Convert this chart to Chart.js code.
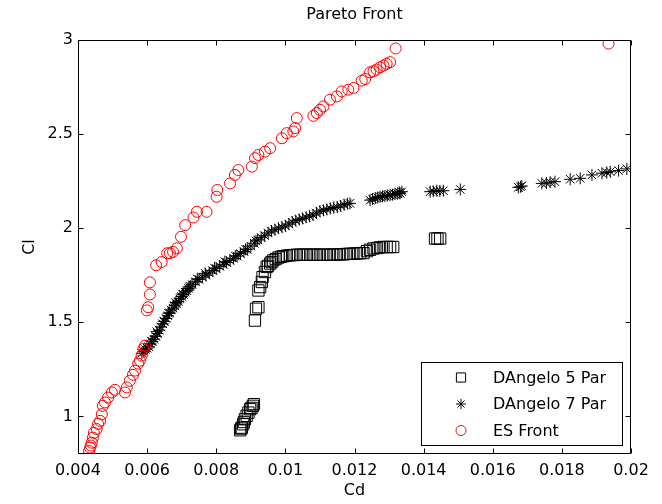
<!DOCTYPE html>
<html>
<head>
<meta charset="utf-8">
<title>Pareto Front</title>
<script src="https://cdn.jsdelivr.net/npm/chart.js@4/dist/chart.umd.min.js"></script>
<style>
  html, body { margin: 0; padding: 0; background: #ffffff; }
  #wrap { width: 662px; height: 504px; }
</style>
</head>
<body>
<div id="wrap"><canvas id="chart" width="662" height="504"></canvas></div>
<script>
// Axis ticks
const cdTicks = [0.004, 0.006, 0.008, 0.010, 0.012, 0.014, 0.016, 0.018, 0.020];
const clTicks = [1, 1.5, 2, 2.5, 3];

// DAngelo 5 parameter front
const dangelo5Cd = [0.00869, 0.00872, 0.00874, 0.00878, 0.00880, 0.00883, 0.00888, 0.00893, 0.00898, 0.00902, 0.00906, 0.00909,
  0.00912, 0.00915, 0.00922, 0.00922, 0.00927, 0.00932, 0.00934, 0.00941, 0.00946, 0.00950, 0.00956, 0.00960, 0.00965, 0.00972,
  0.00980, 0.00987, 0.00994, 0.01004, 0.01014, 0.01023, 0.01033, 0.01043, 0.01052, 0.01062, 0.01072, 0.01081, 0.01091, 0.01100,
  0.01110, 0.01120, 0.01129, 0.01139, 0.01149, 0.01158, 0.01168, 0.01178, 0.01187, 0.01197, 0.01207, 0.01216, 0.01226, 0.01236,
  0.01245, 0.01255, 0.01265, 0.01274, 0.01284, 0.01293, 0.01303, 0.01312, 0.01433, 0.01440, 0.01448];
const dangelo5Cl = [0.926, 0.935, 0.940, 0.958, 0.970, 0.985, 1.003, 1.020, 1.038, 1.045, 1.056, 1.065,
  1.509, 1.572, 1.580, 1.669, 1.687, 1.714, 1.740, 1.767, 1.794, 1.800, 1.812, 1.820, 1.829, 1.836,
  1.844, 1.848, 1.851, 1.854, 1.856, 1.857, 1.859, 1.859, 1.859, 1.859, 1.859, 1.859, 1.859, 1.859,
  1.859, 1.859, 1.859, 1.860, 1.860, 1.861, 1.861, 1.863, 1.864, 1.865, 1.866, 1.867, 1.868, 1.878,
  1.885, 1.892, 1.895, 1.898, 1.900, 1.900, 1.900, 1.900, 1.945, 1.945, 1.945];

// DAngelo 7 parameter front
const dangelo7Cd = [0.00585, 0.00590, 0.00595, 0.00600, 0.00605, 0.00610, 0.00615, 0.00620, 0.00625, 0.00630, 0.00635, 0.00640,
  0.00645, 0.00650, 0.00655, 0.00660, 0.00665, 0.00670, 0.00675, 0.00680, 0.00685, 0.00690, 0.00695, 0.00700, 0.00705, 0.00710,
  0.00715, 0.00720, 0.00725, 0.00730, 0.00740, 0.00750, 0.00760, 0.00770, 0.00780, 0.00790, 0.00800, 0.00810, 0.00820, 0.00830,
  0.00840, 0.00850, 0.00860, 0.00870, 0.00880, 0.00890, 0.00900, 0.00910, 0.00920, 0.00930, 0.00940, 0.00950, 0.00960, 0.00970,
  0.00980, 0.00990, 0.01000, 0.01010, 0.01020, 0.01030, 0.01040, 0.01050, 0.01060, 0.01070, 0.01080, 0.01090, 0.01100, 0.01110,
  0.01120, 0.01130, 0.01140, 0.01150, 0.01160, 0.01170, 0.01180, 0.01187,
  0.00612, 0.00628, 0.00648, 0.00662, 0.00683, 0.00702, 0.00722, 0.00745, 0.00768, 0.00795, 0.00825, 0.00855, 0.00885, 0.00915,
  0.01245, 0.01252, 0.01260, 0.01267, 0.01274, 0.01281, 0.01288, 0.01295, 0.01303, 0.01310, 0.01317, 0.01325, 0.01330, 0.01332, 0.01337,
  0.01419, 0.01428, 0.01438, 0.01447, 0.01457, 0.01506,
  0.01674, 0.01680, 0.01684, 0.01742, 0.01755, 0.01766, 0.01780, 0.01824, 0.01853, 0.01887, 0.01916, 0.01930, 0.01940, 0.01964, 0.01988];
const dangelo7Cl = [1.335, 1.345, 1.355, 1.362, 1.370, 1.385, 1.398, 1.410, 1.425, 1.440, 1.458, 1.475,
  1.492, 1.505, 1.520, 1.535, 1.550, 1.565, 1.575, 1.588, 1.598, 1.610, 1.625, 1.637, 1.648, 1.660,
  1.668, 1.680, 1.692, 1.700, 1.715, 1.728, 1.740, 1.750, 1.762, 1.775, 1.785, 1.798, 1.808, 1.818,
  1.828, 1.840, 1.852, 1.865, 1.876, 1.888, 1.905, 1.920, 1.938, 1.950, 1.960, 1.975, 1.985, 1.992,
  2.000, 2.006, 2.012, 2.022, 2.032, 2.040, 2.046, 2.052, 2.058, 2.064, 2.070, 2.080, 2.090, 2.095,
  2.100, 2.105, 2.110, 2.112, 2.118, 2.125, 2.130, 2.132,
  1.400, 1.450, 1.505, 1.548, 1.605, 1.650, 1.688, 1.731, 1.760, 1.788, 1.822, 1.852, 1.888, 1.932,
  2.149, 2.155, 2.160, 2.163, 2.167, 2.170, 2.171, 2.174, 2.176, 2.178, 2.181, 2.183, 2.190, 2.185, 2.194,
  2.194, 2.196, 2.199, 2.198, 2.199, 2.206,
  2.217, 2.220, 2.224, 2.238, 2.240, 2.244, 2.247, 2.260, 2.265, 2.283, 2.292, 2.296, 2.300, 2.306, 2.315];

// Evolution strategy front
const esFrontCd = [0.00432, 0.00435, 0.00437, 0.00440, 0.00443, 0.00446, 0.00454, 0.00458, 0.00464, 0.00469, 0.00472, 0.00478,
  0.00487, 0.00498, 0.00507, 0.00536, 0.00541, 0.00550, 0.00559, 0.00565, 0.00574, 0.00579, 0.00584, 0.00589, 0.00594,
  0.00599, 0.00603, 0.00608, 0.00608, 0.00626, 0.00642, 0.00658, 0.00666, 0.00675, 0.00686, 0.00698, 0.00710, 0.00734,
  0.00744, 0.00772, 0.00801, 0.00803, 0.00840, 0.00854, 0.00864, 0.00903, 0.00912, 0.00922, 0.00941, 0.00956, 0.00990,
  0.01004, 0.01023, 0.01028, 0.01033, 0.01081, 0.01091, 0.01100, 0.01110, 0.01129, 0.01149, 0.01163, 0.01182, 0.01197,
  0.01221, 0.01231, 0.01245, 0.01255, 0.01264, 0.01274, 0.01284, 0.01293, 0.01303, 0.01319, 0.01935];
const esFrontCl = [0.816, 0.834, 0.845, 0.860, 0.887, 0.912, 0.933, 0.960, 0.976, 1.012, 1.056, 1.074,
  1.100, 1.127, 1.141, 1.127, 1.154, 1.189, 1.221, 1.243, 1.280, 1.296, 1.323, 1.358, 1.376,
  1.563, 1.580, 1.648, 1.712, 1.803, 1.820, 1.867, 1.867, 1.874, 1.893, 1.954, 2.016, 2.057,
  2.087, 2.087, 2.167, 2.203, 2.238, 2.283, 2.309, 2.327, 2.372, 2.389, 2.407, 2.425, 2.478,
  2.505, 2.514, 2.532, 2.585, 2.597, 2.612, 2.629, 2.647, 2.683, 2.700, 2.727, 2.736, 2.745,
  2.784, 2.793, 2.828, 2.834, 2.843, 2.855, 2.864, 2.873, 2.882, 2.955, 2.981];

const zip = (xs, ys) => xs.map((x, i) => ({ x: x, y: ys[i] }));
const FONT = 'DejaVu Sans';

// Box frame with inward tick marks on all four sides
const frameTicks = {
  id: 'frameTicks',
  afterDatasetsDraw(chart) {
    const { ctx, chartArea: a, scales: { x, y } } = chart;
    const L = Math.round(a.left) + 0.5, R = Math.round(a.right) - 0.5;
    const T = Math.round(a.top) + 0.5, B = Math.round(a.bottom) - 0.5;
    const len = 5;
    ctx.save();
    ctx.strokeStyle = '#000';
    ctx.lineWidth = 1;
    ctx.beginPath();
    ctx.rect(L, T, R - L, B - T);
    x.ticks.forEach(t => {
      const px = Math.round(x.getPixelForValue(t.value)) + 0.5;
      ctx.moveTo(px, B); ctx.lineTo(px, B - len);
      ctx.moveTo(px, T); ctx.lineTo(px, T + len);
    });
    y.ticks.forEach(t => {
      const py = Math.round(y.getPixelForValue(t.value)) + 0.5;
      ctx.moveTo(L, py); ctx.lineTo(L + len, py);
      ctx.moveTo(R, py); ctx.lineTo(R - len, py);
    });
    ctx.stroke();
    ctx.restore();
  }
};

// Boxed legend in the lower right corner of the plot area
const boxLegend = {
  id: 'boxLegend',
  afterDraw(chart) {
    const { ctx, chartArea: a } = chart;
    const right = a.right - 9, bottom = a.bottom - 9;
    const w = 201, rowH = 26.5, h = 83;
    const left = right - w, top = bottom - h;
    ctx.save();
    ctx.fillStyle = '#fff';
    ctx.fillRect(left, top, w, h);
    ctx.strokeStyle = '#000';
    ctx.lineWidth = 1;
    ctx.strokeRect(Math.round(left) + 0.5, Math.round(top) + 0.5, Math.round(w), Math.round(h));
    ctx.font = '16px "' + FONT + '"';
    ctx.textBaseline = 'middle';
    ctx.textAlign = 'left';
    chart.data.datasets.forEach((ds, i) => {
      const cy = top + 15.5 + i * rowH;
      const mx = left + 40;
      ctx.strokeStyle = ds.pointBorderColor;
      ctx.fillStyle = 'rgba(0,0,0,0)';
      Chart.helpers.drawPoint(ctx, {
        pointStyle: ds.pointStyle, radius: ds.legendRadius, rotation: 0, borderWidth: 1
      }, mx, cy);
      ctx.fillStyle = '#000';
      ctx.fillText(ds.label, left + 72, cy + 1);
    });
    ctx.restore();
  }
};

const markerBase = { showLine: false, pointBackgroundColor: 'rgba(0,0,0,0)', pointBorderWidth: 1, pointHoverRadius: 0 };

new Chart(document.getElementById('chart'), {
  type: 'scatter',
  data: {
    datasets: [
      Object.assign({}, markerBase, {
        label: 'DAngelo 5 Par', data: zip(dangelo5Cd, dangelo5Cl),
        pointStyle: 'rect', pointRadius: 8, legendRadius: 6.5, pointBorderColor: '#000', order: 3
      }),
      Object.assign({}, markerBase, {
        label: 'DAngelo 7 Par', data: zip(dangelo7Cd, dangelo7Cl),
        pointStyle: 'star', pointRadius: 6, legendRadius: 5, pointBorderColor: '#000', order: 2
      }),
      Object.assign({}, markerBase, {
        label: 'ES Front', data: zip(esFrontCd, esFrontCl),
        pointStyle: 'circle', pointRadius: 5.5, legendRadius: 5, pointBorderColor: '#ff0000', order: 1
      })
    ]
  },
  options: {
    responsive: false,
    animation: false,
    devicePixelRatio: 1,
    layout: { padding: { left: 0, right: 31, top: 0, bottom: 0 } },
    plugins: {
      legend: { display: false },
      tooltip: { enabled: false },
      title: {
        display: true, text: 'Pareto Front', color: '#000', fullSize: false,
        font: { family: FONT, size: 16, weight: 'normal' },
        padding: { top: 5, bottom: 15.8 }
      }
    },
    scales: {
      x: {
        type: 'linear', position: 'bottom', min: 0.004, max: 0.02,
        afterBuildTicks: s => { s.ticks = cdTicks.map(v => ({ value: v })); },
        afterFit: s => { s.height = 50; },
        grid: { display: false, drawTicks: false },
        border: { display: false },
        ticks: {
          color: '#000', padding: 7, maxRotation: 0, autoSkip: false,
          font: { family: FONT, size: 16 },
          callback: v => String(parseFloat(Number(v).toFixed(4)))
        },
        title: {
          display: true, text: 'Cd', color: '#000',
          font: { family: FONT, size: 16 }, padding: { top: 0, bottom: 3.5 }
        }
      },
      y: {
        type: 'linear', position: 'left', min: 0.8, max: 3,
        afterBuildTicks: s => { s.ticks = clTicks.map(v => ({ value: v })); },
        afterFit: s => { s.width = 78; },
        grid: { display: false, drawTicks: false },
        border: { display: false },
        ticks: {
          color: '#000', padding: 5, autoSkip: false,
          font: { family: FONT, size: 16 },
          callback: v => String(parseFloat(Number(v).toFixed(2)))
        },
        title: {
          display: true, text: 'Cl', color: '#000',
          font: { family: FONT, size: 16 }, padding: { top: 20, bottom: 0 }
        }
      }
    }
  },
  plugins: [frameTicks, boxLegend]
});
</script>
</body>
</html>
